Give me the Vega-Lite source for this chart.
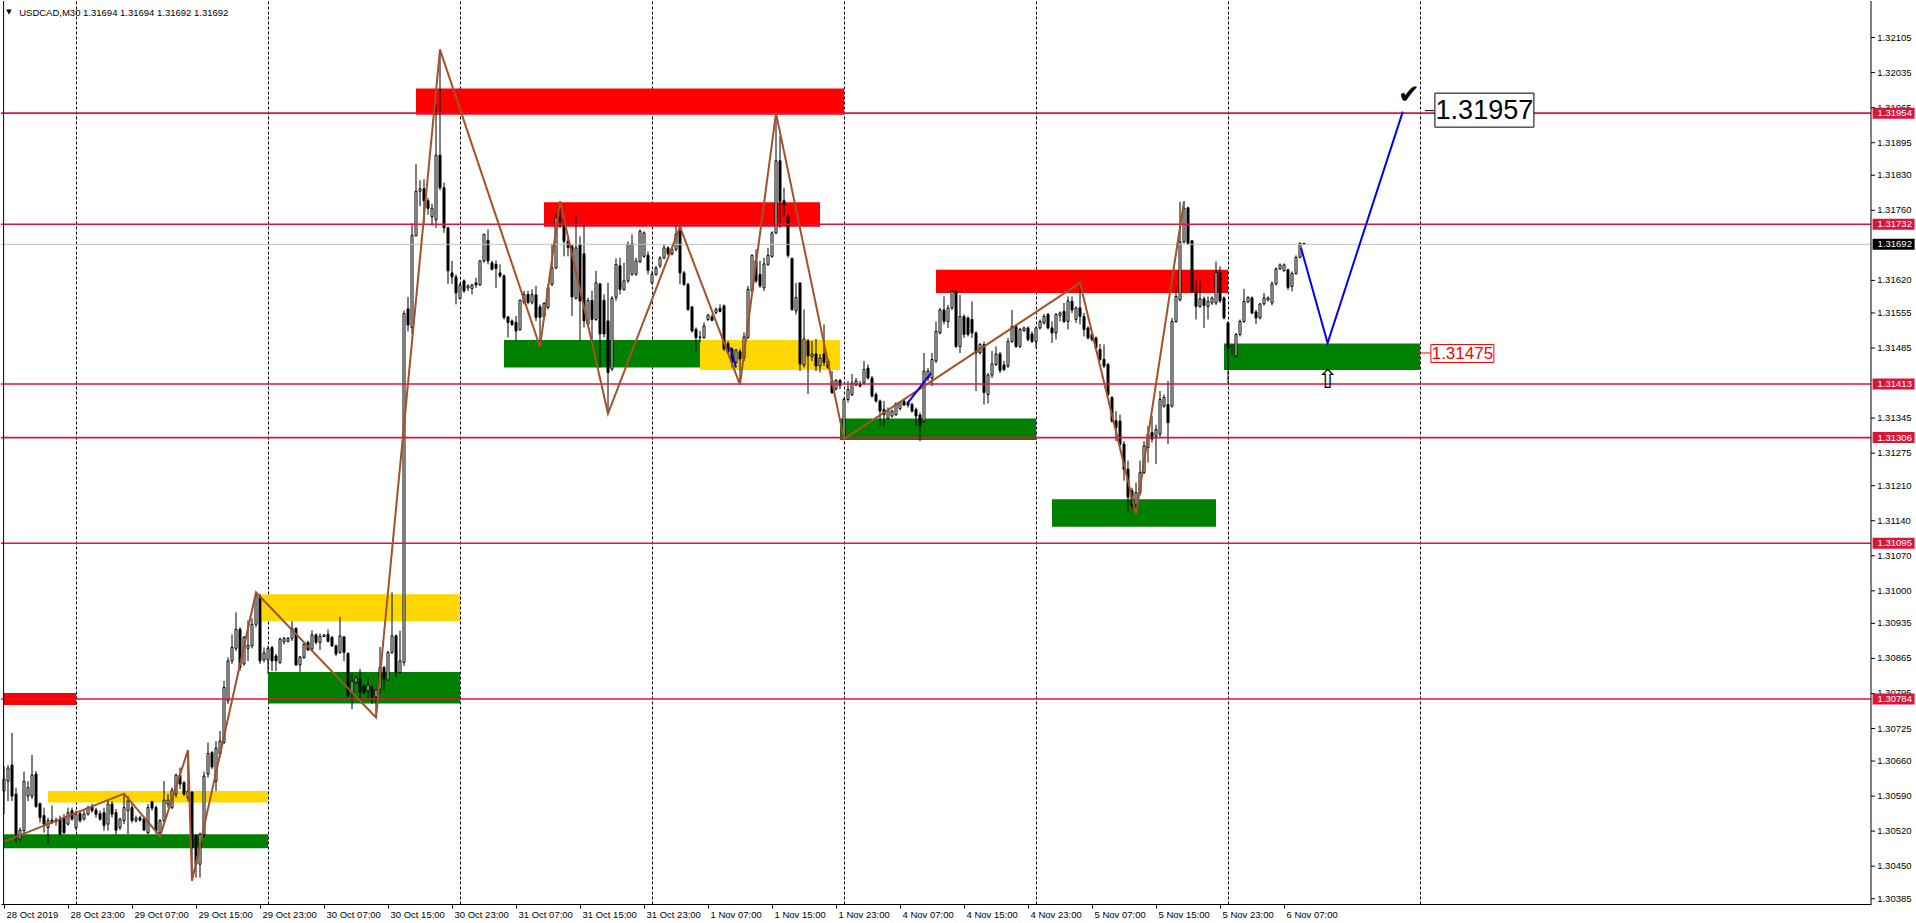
{
"$schema":"https://vega.github.io/schema/vega-lite/v6.json",
"width":1870,"height":903,"autosize":{"type":"pad"},"padding":0,"background":"#ffffff",
"config":{"view":{"stroke":null},"font":"Liberation Sans"},
"resolve":{"axis":{"x":"independent"}},
"datasets":{
"candles":[
{"i":0,"o":1.30600,"h":1.30650,"l":1.30554,"c":1.30624},
{"i":1,"o":1.30620,"h":1.30652,"l":1.30580,"c":1.30646},
{"i":2,"o":1.30652,"h":1.30716,"l":1.30580,"c":1.30590},
{"i":3,"o":1.30594,"h":1.30607,"l":1.30497,"c":1.30514},
{"i":4,"o":1.30504,"h":1.30527,"l":1.30501,"c":1.30522},
{"i":5,"o":1.30521,"h":1.30639,"l":1.30514,"c":1.30619},
{"i":6,"o":1.30590,"h":1.30620,"l":1.30580,"c":1.30607},
{"i":7,"o":1.30590,"h":1.30672,"l":1.30584,"c":1.30632},
{"i":8,"o":1.30634,"h":1.30640,"l":1.30567,"c":1.30569},
{"i":9,"o":1.30575,"h":1.30577,"l":1.30537,"c":1.30547},
{"i":10,"o":1.30551,"h":1.30567,"l":1.30517,"c":1.30534},
{"i":11,"o":1.30527,"h":1.30547,"l":1.30495,"c":1.30541},
{"i":12,"o":1.30542,"h":1.30571,"l":1.30534,"c":1.30537},
{"i":13,"o":1.30542,"h":1.30547,"l":1.30531,"c":1.30539},
{"i":14,"o":1.30544,"h":1.30551,"l":1.30511,"c":1.30514},
{"i":15,"o":1.30547,"h":1.30554,"l":1.30514,"c":1.30517},
{"i":16,"o":1.30534,"h":1.30567,"l":1.30531,"c":1.30557},
{"i":17,"o":1.30561,"h":1.30567,"l":1.30541,"c":1.30544},
{"i":18,"o":1.30527,"h":1.30561,"l":1.30521,"c":1.30554},
{"i":19,"o":1.30555,"h":1.30561,"l":1.30537,"c":1.30541},
{"i":20,"o":1.30544,"h":1.30561,"l":1.30541,"c":1.30554},
{"i":21,"o":1.30554,"h":1.30571,"l":1.30551,"c":1.30567},
{"i":22,"o":1.30569,"h":1.30575,"l":1.30557,"c":1.30561},
{"i":23,"o":1.30562,"h":1.30567,"l":1.30547,"c":1.30554},
{"i":24,"o":1.30555,"h":1.30561,"l":1.30541,"c":1.30544},
{"i":25,"o":1.30557,"h":1.30567,"l":1.30521,"c":1.30531},
{"i":26,"o":1.30534,"h":1.30584,"l":1.30521,"c":1.30574},
{"i":27,"o":1.30574,"h":1.30580,"l":1.30547,"c":1.30554},
{"i":28,"o":1.30557,"h":1.30564,"l":1.30513,"c":1.30522},
{"i":29,"o":1.30527,"h":1.30547,"l":1.30522,"c":1.30544},
{"i":30,"o":1.30541,"h":1.30594,"l":1.30534,"c":1.30567},
{"i":31,"o":1.30561,"h":1.30590,"l":1.30514,"c":1.30580},
{"i":32,"o":1.30567,"h":1.30574,"l":1.30537,"c":1.30541},
{"i":33,"o":1.30541,"h":1.30551,"l":1.30537,"c":1.30546},
{"i":34,"o":1.30547,"h":1.30551,"l":1.30539,"c":1.30542},
{"i":35,"o":1.30544,"h":1.30547,"l":1.30521,"c":1.30522},
{"i":36,"o":1.30517,"h":1.30574,"l":1.30514,"c":1.30567},
{"i":37,"o":1.30579,"h":1.30580,"l":1.30561,"c":1.30566},
{"i":38,"o":1.30567,"h":1.30571,"l":1.30515,"c":1.30521},
{"i":39,"o":1.30517,"h":1.30544,"l":1.30513,"c":1.30541},
{"i":40,"o":1.30541,"h":1.30620,"l":1.30537,"c":1.30582},
{"i":41,"o":1.30574,"h":1.30594,"l":1.30567,"c":1.30582},
{"i":42,"o":1.30567,"h":1.30607,"l":1.30564,"c":1.30602},
{"i":43,"o":1.30594,"h":1.30635,"l":1.30587,"c":1.30632},
{"i":44,"o":1.30632,"h":1.30647,"l":1.30604,"c":1.30614},
{"i":45,"o":1.30617,"h":1.30620,"l":1.30590,"c":1.30594},
{"i":46,"o":1.30587,"h":1.30682,"l":1.30580,"c":1.30600},
{"i":47,"o":1.30598,"h":1.30600,"l":1.30421,"c":1.30487},
{"i":48,"o":1.30511,"h":1.30514,"l":1.30427,"c":1.30454},
{"i":49,"o":1.30454,"h":1.30517,"l":1.30427,"c":1.30514},
{"i":50,"o":1.30513,"h":1.30639,"l":1.30507,"c":1.30630},
{"i":51,"o":1.30634,"h":1.30697,"l":1.30627,"c":1.30675},
{"i":52,"o":1.30677,"h":1.30680,"l":1.30644,"c":1.30648},
{"i":53,"o":1.30620,"h":1.30700,"l":1.30600,"c":1.30686},
{"i":54,"o":1.30674,"h":1.30720,"l":1.30667,"c":1.30700},
{"i":55,"o":1.30697,"h":1.30820,"l":1.30694,"c":1.30807},
{"i":56,"o":1.30780,"h":1.30867,"l":1.30774,"c":1.30860},
{"i":57,"o":1.30860,"h":1.30913,"l":1.30854,"c":1.30887},
{"i":58,"o":1.30885,"h":1.30957,"l":1.30880,"c":1.30923},
{"i":59,"o":1.30923,"h":1.30927,"l":1.30840,"c":1.30847},
{"i":60,"o":1.30854,"h":1.30910,"l":1.30850,"c":1.30907},
{"i":61,"o":1.30885,"h":1.30941,"l":1.30860,"c":1.30891},
{"i":62,"o":1.30890,"h":1.30945,"l":1.30885,"c":1.30933},
{"i":63,"o":1.30933,"h":1.30997,"l":1.30927,"c":1.30990},
{"i":64,"o":1.30990,"h":1.30994,"l":1.30854,"c":1.30860},
{"i":65,"o":1.30862,"h":1.30887,"l":1.30857,"c":1.30876},
{"i":66,"o":1.30862,"h":1.30890,"l":1.30834,"c":1.30885},
{"i":67,"o":1.30887,"h":1.30890,"l":1.30840,"c":1.30860},
{"i":68,"o":1.30870,"h":1.30874,"l":1.30840,"c":1.30860},
{"i":69,"o":1.30857,"h":1.30907,"l":1.30854,"c":1.30903},
{"i":70,"o":1.30898,"h":1.30908,"l":1.30893,"c":1.30905},
{"i":71,"o":1.30899,"h":1.30908,"l":1.30897,"c":1.30905},
{"i":72,"o":1.30905,"h":1.30939,"l":1.30900,"c":1.30925},
{"i":73,"o":1.30925,"h":1.30927,"l":1.30850,"c":1.30852},
{"i":74,"o":1.30852,"h":1.30870,"l":1.30838,"c":1.30868},
{"i":75,"o":1.30867,"h":1.30897,"l":1.30864,"c":1.30893},
{"i":76,"o":1.30897,"h":1.30900,"l":1.30880,"c":1.30882},
{"i":77,"o":1.30884,"h":1.30921,"l":1.30880,"c":1.30912},
{"i":78,"o":1.30912,"h":1.30915,"l":1.30893,"c":1.30897},
{"i":79,"o":1.30897,"h":1.30915,"l":1.30882,"c":1.30909},
{"i":80,"o":1.30909,"h":1.30913,"l":1.30907,"c":1.30912},
{"i":81,"o":1.30913,"h":1.30923,"l":1.30897,"c":1.30899},
{"i":82,"o":1.30907,"h":1.30910,"l":1.30888,"c":1.30890},
{"i":83,"o":1.30890,"h":1.30893,"l":1.30870,"c":1.30874},
{"i":84,"o":1.30877,"h":1.30948,"l":1.30874,"c":1.30910},
{"i":85,"o":1.30908,"h":1.30910,"l":1.30860,"c":1.30877},
{"i":86,"o":1.30875,"h":1.30877,"l":1.30787,"c":1.30790},
{"i":87,"o":1.30797,"h":1.30834,"l":1.30764,"c":1.30819},
{"i":88,"o":1.30817,"h":1.30830,"l":1.30814,"c":1.30827},
{"i":89,"o":1.30824,"h":1.30844,"l":1.30780,"c":1.30797},
{"i":90,"o":1.30810,"h":1.30813,"l":1.30794,"c":1.30797},
{"i":91,"o":1.30800,"h":1.30828,"l":1.30784,"c":1.30812},
{"i":92,"o":1.30808,"h":1.30812,"l":1.30774,"c":1.30788},
{"i":93,"o":1.30788,"h":1.30804,"l":1.30747,"c":1.30802},
{"i":94,"o":1.30804,"h":1.30888,"l":1.30794,"c":1.30847},
{"i":95,"o":1.30847,"h":1.30850,"l":1.30800,"c":1.30824},
{"i":96,"o":1.30822,"h":1.30880,"l":1.30820,"c":1.30877},
{"i":97,"o":1.30877,"h":1.30997,"l":1.30874,"c":1.30910},
{"i":98,"o":1.30910,"h":1.30913,"l":1.30827,"c":1.30837},
{"i":99,"o":1.30837,"h":1.30920,"l":1.30834,"c":1.30860},
{"i":100,"o":1.30857,"h":1.31560,"l":1.30850,"c":1.31554},
{"i":101,"o":1.31563,"h":1.31587,"l":1.31518,"c":1.31531},
{"i":102,"o":1.31526,"h":1.31734,"l":1.31513,"c":1.31710},
{"i":103,"o":1.31709,"h":1.31852,"l":1.31708,"c":1.31798},
{"i":104,"o":1.31798,"h":1.31820,"l":1.31768,"c":1.31803},
{"i":105,"o":1.31803,"h":1.31822,"l":1.31734,"c":1.31779},
{"i":106,"o":1.31779,"h":1.31785,"l":1.31751,"c":1.31764},
{"i":107,"o":1.31747,"h":1.31773,"l":1.31729,"c":1.31764},
{"i":108,"o":1.31741,"h":1.31971,"l":1.31725,"c":1.31870},
{"i":109,"o":1.31870,"h":1.32081,"l":1.31800,"c":1.31805},
{"i":110,"o":1.31805,"h":1.31815,"l":1.31715,"c":1.31725},
{"i":111,"o":1.31725,"h":1.31727,"l":1.31613,"c":1.31639},
{"i":112,"o":1.31635,"h":1.31659,"l":1.31613,"c":1.31627},
{"i":113,"o":1.31627,"h":1.31632,"l":1.31572,"c":1.31595},
{"i":114,"o":1.31584,"h":1.31615,"l":1.31582,"c":1.31611},
{"i":115,"o":1.31619,"h":1.31622,"l":1.31595,"c":1.31599},
{"i":116,"o":1.31605,"h":1.31612,"l":1.31599,"c":1.31609},
{"i":117,"o":1.31604,"h":1.31613,"l":1.31592,"c":1.31611},
{"i":118,"o":1.31615,"h":1.31625,"l":1.31605,"c":1.31611},
{"i":119,"o":1.31611,"h":1.31660,"l":1.31609,"c":1.31659},
{"i":120,"o":1.31659,"h":1.31713,"l":1.31655,"c":1.31712},
{"i":121,"o":1.31700,"h":1.31722,"l":1.31652,"c":1.31659},
{"i":122,"o":1.31655,"h":1.31659,"l":1.31640,"c":1.31642},
{"i":123,"o":1.31652,"h":1.31660,"l":1.31605,"c":1.31644},
{"i":124,"o":1.31635,"h":1.31652,"l":1.31625,"c":1.31629},
{"i":125,"o":1.31629,"h":1.31632,"l":1.31542,"c":1.31546},
{"i":126,"o":1.31547,"h":1.31549,"l":1.31506,"c":1.31536},
{"i":127,"o":1.31539,"h":1.31542,"l":1.31529,"c":1.31532},
{"i":128,"o":1.31536,"h":1.31549,"l":1.31499,"c":1.31519},
{"i":129,"o":1.31522,"h":1.31582,"l":1.31519,"c":1.31580},
{"i":130,"o":1.31576,"h":1.31599,"l":1.31572,"c":1.31592},
{"i":131,"o":1.31592,"h":1.31599,"l":1.31572,"c":1.31576},
{"i":132,"o":1.31576,"h":1.31602,"l":1.31572,"c":1.31592},
{"i":133,"o":1.31591,"h":1.31609,"l":1.31539,"c":1.31546},
{"i":134,"o":1.31567,"h":1.31572,"l":1.31487,"c":1.31546},
{"i":135,"o":1.31547,"h":1.31576,"l":1.31542,"c":1.31574},
{"i":136,"o":1.31566,"h":1.31612,"l":1.31562,"c":1.31605},
{"i":137,"o":1.31612,"h":1.31693,"l":1.31609,"c":1.31645},
{"i":138,"o":1.31645,"h":1.31753,"l":1.31642,"c":1.31745},
{"i":139,"o":1.31745,"h":1.31778,"l":1.31725,"c":1.31738},
{"i":140,"o":1.31728,"h":1.31742,"l":1.31668,"c":1.31698},
{"i":141,"o":1.31698,"h":1.31705,"l":1.31668,"c":1.31686},
{"i":142,"o":1.31688,"h":1.31692,"l":1.31549,"c":1.31587},
{"i":143,"o":1.31584,"h":1.31750,"l":1.31582,"c":1.31685},
{"i":144,"o":1.31692,"h":1.31708,"l":1.31499,"c":1.31579},
{"i":145,"o":1.31673,"h":1.31732,"l":1.31526,"c":1.31539},
{"i":146,"o":1.31532,"h":1.31586,"l":1.31529,"c":1.31580},
{"i":147,"o":1.31580,"h":1.31599,"l":1.31499,"c":1.31542},
{"i":148,"o":1.31542,"h":1.31639,"l":1.31539,"c":1.31615},
{"i":149,"o":1.31613,"h":1.31615,"l":1.31446,"c":1.31513},
{"i":150,"o":1.31580,"h":1.31592,"l":1.31506,"c":1.31513},
{"i":151,"o":1.31539,"h":1.31615,"l":1.31354,"c":1.31436},
{"i":152,"o":1.31443,"h":1.31589,"l":1.31439,"c":1.31584},
{"i":153,"o":1.31586,"h":1.31664,"l":1.31579,"c":1.31652},
{"i":154,"o":1.31649,"h":1.31665,"l":1.31592,"c":1.31602},
{"i":155,"o":1.31602,"h":1.31655,"l":1.31599,"c":1.31619},
{"i":156,"o":1.31619,"h":1.31698,"l":1.31615,"c":1.31692},
{"i":157,"o":1.31632,"h":1.31712,"l":1.31629,"c":1.31693},
{"i":158,"o":1.31632,"h":1.31665,"l":1.31629,"c":1.31659},
{"i":159,"o":1.31657,"h":1.31722,"l":1.31655,"c":1.31718},
{"i":160,"o":1.31668,"h":1.31718,"l":1.31665,"c":1.31715},
{"i":161,"o":1.31670,"h":1.31678,"l":1.31632,"c":1.31640},
{"i":162,"o":1.31615,"h":1.31639,"l":1.31612,"c":1.31632},
{"i":163,"o":1.31632,"h":1.31649,"l":1.31629,"c":1.31645},
{"i":164,"o":1.31649,"h":1.31668,"l":1.31645,"c":1.31665},
{"i":165,"o":1.31665,"h":1.31692,"l":1.31662,"c":1.31685},
{"i":166,"o":1.31685,"h":1.31688,"l":1.31670,"c":1.31673},
{"i":167,"o":1.31673,"h":1.31685,"l":1.31670,"c":1.31682},
{"i":168,"o":1.31682,"h":1.31728,"l":1.31678,"c":1.31712},
{"i":169,"o":1.31726,"h":1.31727,"l":1.31612,"c":1.31635},
{"i":170,"o":1.31635,"h":1.31639,"l":1.31609,"c":1.31612},
{"i":171,"o":1.31612,"h":1.31615,"l":1.31559,"c":1.31562},
{"i":172,"o":1.31567,"h":1.31569,"l":1.31516,"c":1.31519},
{"i":173,"o":1.31522,"h":1.31526,"l":1.31479,"c":1.31506},
{"i":174,"o":1.31506,"h":1.31519,"l":1.31496,"c":1.31507},
{"i":175,"o":1.31506,"h":1.31536,"l":1.31503,"c":1.31529},
{"i":176,"o":1.31542,"h":1.31552,"l":1.31539,"c":1.31551},
{"i":177,"o":1.31547,"h":1.31552,"l":1.31539,"c":1.31540},
{"i":178,"o":1.31556,"h":1.31566,"l":1.31552,"c":1.31562},
{"i":179,"o":1.31564,"h":1.31572,"l":1.31556,"c":1.31558},
{"i":180,"o":1.31569,"h":1.31572,"l":1.31479,"c":1.31483},
{"i":181,"o":1.31494,"h":1.31499,"l":1.31473,"c":1.31476},
{"i":182,"o":1.31483,"h":1.31486,"l":1.31446,"c":1.31456},
{"i":183,"o":1.31456,"h":1.31483,"l":1.31453,"c":1.31481},
{"i":184,"o":1.31478,"h":1.31483,"l":1.31412,"c":1.31463},
{"i":185,"o":1.31465,"h":1.31516,"l":1.31459,"c":1.31507},
{"i":186,"o":1.31506,"h":1.31609,"l":1.31503,"c":1.31602},
{"i":187,"o":1.31599,"h":1.31672,"l":1.31595,"c":1.31670},
{"i":188,"o":1.31659,"h":1.31682,"l":1.31615,"c":1.31619},
{"i":189,"o":1.31632,"h":1.31659,"l":1.31605,"c":1.31609},
{"i":190,"o":1.31605,"h":1.31665,"l":1.31599,"c":1.31653},
{"i":191,"o":1.31652,"h":1.31685,"l":1.31649,"c":1.31670},
{"i":192,"o":1.31668,"h":1.31718,"l":1.31665,"c":1.31715},
{"i":193,"o":1.31715,"h":1.31954,"l":1.31712,"c":1.31859},
{"i":194,"o":1.31859,"h":1.31908,"l":1.31725,"c":1.31778},
{"i":195,"o":1.31779,"h":1.31805,"l":1.31748,"c":1.31771},
{"i":196,"o":1.31748,"h":1.31752,"l":1.31665,"c":1.31670},
{"i":197,"o":1.31664,"h":1.31665,"l":1.31559,"c":1.31562},
{"i":198,"o":1.31559,"h":1.31615,"l":1.31552,"c":1.31586},
{"i":199,"o":1.31615,"h":1.31615,"l":1.31439,"c":1.31453},
{"i":200,"o":1.31451,"h":1.31562,"l":1.31446,"c":1.31503},
{"i":201,"o":1.31499,"h":1.31503,"l":1.31393,"c":1.31469},
{"i":202,"o":1.31468,"h":1.31499,"l":1.31459,"c":1.31473},
{"i":203,"o":1.31473,"h":1.31503,"l":1.31439,"c":1.31449},
{"i":204,"o":1.31449,"h":1.31473,"l":1.31436,"c":1.31465},
{"i":205,"o":1.31473,"h":1.31532,"l":1.31449,"c":1.31456},
{"i":206,"o":1.31459,"h":1.31463,"l":1.31443,"c":1.31446},
{"i":207,"o":1.31420,"h":1.31439,"l":1.31393,"c":1.31396},
{"i":208,"o":1.31403,"h":1.31423,"l":1.31400,"c":1.31420},
{"i":209,"o":1.31420,"h":1.31423,"l":1.31403,"c":1.31410},
{"i":210,"o":1.31306,"h":1.31386,"l":1.31303,"c":1.31382},
{"i":211,"o":1.31382,"h":1.31419,"l":1.31376,"c":1.31402},
{"i":212,"o":1.31392,"h":1.31433,"l":1.31389,"c":1.31415},
{"i":213,"o":1.31411,"h":1.31425,"l":1.31409,"c":1.31419},
{"i":214,"o":1.31413,"h":1.31419,"l":1.31406,"c":1.31409},
{"i":215,"o":1.31415,"h":1.31459,"l":1.31412,"c":1.31442},
{"i":216,"o":1.31445,"h":1.31452,"l":1.31422,"c":1.31425},
{"i":217,"o":1.31425,"h":1.31429,"l":1.31386,"c":1.31389},
{"i":218,"o":1.31392,"h":1.31396,"l":1.31376,"c":1.31379},
{"i":219,"o":1.31379,"h":1.31382,"l":1.31329,"c":1.31359},
{"i":220,"o":1.31362,"h":1.31379,"l":1.31329,"c":1.31352},
{"i":221,"o":1.31344,"h":1.31366,"l":1.31342,"c":1.31360},
{"i":222,"o":1.31349,"h":1.31362,"l":1.31346,"c":1.31359},
{"i":223,"o":1.31352,"h":1.31376,"l":1.31349,"c":1.31374},
{"i":224,"o":1.31364,"h":1.31379,"l":1.31360,"c":1.31376},
{"i":225,"o":1.31379,"h":1.31382,"l":1.31369,"c":1.31371},
{"i":226,"o":1.31376,"h":1.31379,"l":1.31366,"c":1.31371},
{"i":227,"o":1.31372,"h":1.31376,"l":1.31356,"c":1.31359},
{"i":228,"o":1.31362,"h":1.31366,"l":1.31329,"c":1.31349},
{"i":229,"o":1.31351,"h":1.31356,"l":1.31299,"c":1.31329},
{"i":230,"o":1.31339,"h":1.31475,"l":1.31336,"c":1.31439},
{"i":231,"o":1.31425,"h":1.31445,"l":1.31419,"c":1.31439},
{"i":232,"o":1.31425,"h":1.31475,"l":1.31409,"c":1.31462},
{"i":233,"o":1.31459,"h":1.31538,"l":1.31455,"c":1.31518},
{"i":234,"o":1.31515,"h":1.31565,"l":1.31512,"c":1.31561},
{"i":235,"o":1.31561,"h":1.31588,"l":1.31532,"c":1.31538},
{"i":236,"o":1.31538,"h":1.31571,"l":1.31525,"c":1.31565},
{"i":237,"o":1.31565,"h":1.31601,"l":1.31561,"c":1.31598},
{"i":238,"o":1.31598,"h":1.31601,"l":1.31485,"c":1.31488},
{"i":239,"o":1.31488,"h":1.31591,"l":1.31475,"c":1.31548},
{"i":240,"o":1.31548,"h":1.31552,"l":1.31505,"c":1.31512},
{"i":241,"o":1.31545,"h":1.31548,"l":1.31508,"c":1.31512},
{"i":242,"o":1.31542,"h":1.31578,"l":1.31505,"c":1.31515},
{"i":243,"o":1.31515,"h":1.31518,"l":1.31399,"c":1.31475},
{"i":244,"o":1.31475,"h":1.31495,"l":1.31472,"c":1.31492},
{"i":245,"o":1.31492,"h":1.31498,"l":1.31372,"c":1.31396},
{"i":246,"o":1.31392,"h":1.31435,"l":1.31374,"c":1.31431},
{"i":247,"o":1.31431,"h":1.31479,"l":1.31425,"c":1.31453},
{"i":248,"o":1.31452,"h":1.31488,"l":1.31449,"c":1.31473},
{"i":249,"o":1.31473,"h":1.31477,"l":1.31435,"c":1.31440},
{"i":250,"o":1.31451,"h":1.31459,"l":1.31439,"c":1.31442},
{"i":251,"o":1.31449,"h":1.31505,"l":1.31445,"c":1.31498},
{"i":252,"o":1.31498,"h":1.31561,"l":1.31495,"c":1.31528},
{"i":253,"o":1.31528,"h":1.31532,"l":1.31485,"c":1.31488},
{"i":254,"o":1.31488,"h":1.31525,"l":1.31485,"c":1.31522},
{"i":255,"o":1.31520,"h":1.31528,"l":1.31517,"c":1.31525},
{"i":256,"o":1.31525,"h":1.31528,"l":1.31498,"c":1.31502},
{"i":257,"o":1.31513,"h":1.31518,"l":1.31495,"c":1.31498},
{"i":258,"o":1.31498,"h":1.31528,"l":1.31485,"c":1.31525},
{"i":259,"o":1.31525,"h":1.31542,"l":1.31522,"c":1.31538},
{"i":260,"o":1.31535,"h":1.31553,"l":1.31532,"c":1.31548},
{"i":261,"o":1.31552,"h":1.31555,"l":1.31522,"c":1.31525},
{"i":262,"o":1.31525,"h":1.31538,"l":1.31495,"c":1.31515},
{"i":263,"o":1.31515,"h":1.31555,"l":1.31502,"c":1.31552},
{"i":264,"o":1.31550,"h":1.31558,"l":1.31538,"c":1.31555},
{"i":265,"o":1.31558,"h":1.31575,"l":1.31535,"c":1.31538},
{"i":266,"o":1.31538,"h":1.31588,"l":1.31522,"c":1.31579},
{"i":267,"o":1.31578,"h":1.31588,"l":1.31555,"c":1.31561},
{"i":268,"o":1.31542,"h":1.31568,"l":1.31535,"c":1.31565},
{"i":269,"o":1.31565,"h":1.31615,"l":1.31532,"c":1.31548},
{"i":270,"o":1.31548,"h":1.31555,"l":1.31508,"c":1.31522},
{"i":271,"o":1.31525,"h":1.31528,"l":1.31502,"c":1.31505},
{"i":272,"o":1.31512,"h":1.31515,"l":1.31498,"c":1.31502},
{"i":273,"o":1.31505,"h":1.31508,"l":1.31482,"c":1.31485},
{"i":274,"o":1.31482,"h":1.31493,"l":1.31459,"c":1.31462},
{"i":275,"o":1.31462,"h":1.31492,"l":1.31445,"c":1.31449},
{"i":276,"o":1.31452,"h":1.31455,"l":1.31389,"c":1.31392},
{"i":277,"o":1.31386,"h":1.31389,"l":1.31336,"c":1.31339},
{"i":278,"o":1.31340,"h":1.31359,"l":1.31299,"c":1.31326},
{"i":279,"o":1.31339,"h":1.31352,"l":1.31289,"c":1.31293},
{"i":280,"o":1.31293,"h":1.31299,"l":1.31220,"c":1.31243},
{"i":281,"o":1.31243,"h":1.31260,"l":1.31157,"c":1.31187},
{"i":282,"o":1.31200,"h":1.31206,"l":1.31163,"c":1.31170},
{"i":283,"o":1.31173,"h":1.31216,"l":1.31153,"c":1.31196},
{"i":284,"o":1.31196,"h":1.31260,"l":1.31190,"c":1.31236},
{"i":285,"o":1.31236,"h":1.31299,"l":1.31233,"c":1.31289},
{"i":286,"o":1.31286,"h":1.31329,"l":1.31256,"c":1.31313},
{"i":287,"o":1.31316,"h":1.31349,"l":1.31296,"c":1.31303},
{"i":288,"o":1.31309,"h":1.31332,"l":1.31253,"c":1.31322},
{"i":289,"o":1.31313,"h":1.31399,"l":1.31306,"c":1.31382},
{"i":290,"o":1.31369,"h":1.31392,"l":1.31366,"c":1.31386},
{"i":291,"o":1.31372,"h":1.31419,"l":1.31293,"c":1.31336},
{"i":292,"o":1.31369,"h":1.31545,"l":1.31366,"c":1.31538},
{"i":293,"o":1.31538,"h":1.31608,"l":1.31535,"c":1.31588},
{"i":294,"o":1.31581,"h":1.31777,"l":1.31578,"c":1.31697},
{"i":295,"o":1.31697,"h":1.31778,"l":1.31694,"c":1.31764},
{"i":296,"o":1.31765,"h":1.31767,"l":1.31691,"c":1.31694},
{"i":297,"o":1.31699,"h":1.31701,"l":1.31595,"c":1.31598},
{"i":298,"o":1.31598,"h":1.31621,"l":1.31542,"c":1.31568},
{"i":299,"o":1.31568,"h":1.31619,"l":1.31565,"c":1.31583},
{"i":300,"o":1.31583,"h":1.31588,"l":1.31525,"c":1.31570},
{"i":301,"o":1.31568,"h":1.31588,"l":1.31542,"c":1.31578},
{"i":302,"o":1.31575,"h":1.31588,"l":1.31571,"c":1.31585},
{"i":303,"o":1.31575,"h":1.31658,"l":1.31571,"c":1.31636},
{"i":304,"o":1.31636,"h":1.31648,"l":1.31575,"c":1.31579},
{"i":305,"o":1.31585,"h":1.31588,"l":1.31542,"c":1.31545},
{"i":306,"o":1.31535,"h":1.31538,"l":1.31415,"c":1.31484},
{"i":307,"o":1.31482,"h":1.31492,"l":1.31472,"c":1.31486},
{"i":308,"o":1.31469,"h":1.31515,"l":1.31466,"c":1.31512},
{"i":309,"o":1.31512,"h":1.31542,"l":1.31508,"c":1.31538},
{"i":310,"o":1.31538,"h":1.31603,"l":1.31535,"c":1.31578},
{"i":311,"o":1.31577,"h":1.31588,"l":1.31575,"c":1.31586},
{"i":312,"o":1.31585,"h":1.31588,"l":1.31552,"c":1.31555},
{"i":313,"o":1.31557,"h":1.31561,"l":1.31533,"c":1.31545},
{"i":314,"o":1.31545,"h":1.31575,"l":1.31542,"c":1.31573},
{"i":315,"o":1.31573,"h":1.31595,"l":1.31570,"c":1.31585},
{"i":316,"o":1.31581,"h":1.31588,"l":1.31578,"c":1.31585},
{"i":317,"o":1.31575,"h":1.31618,"l":1.31570,"c":1.31613},
{"i":318,"o":1.31613,"h":1.31646,"l":1.31610,"c":1.31643},
{"i":319,"o":1.31643,"h":1.31654,"l":1.31641,"c":1.31651},
{"i":320,"o":1.31639,"h":1.31654,"l":1.31638,"c":1.31651},
{"i":321,"o":1.31641,"h":1.31643,"l":1.31601,"c":1.31606},
{"i":322,"o":1.31608,"h":1.31638,"l":1.31598,"c":1.31634},
{"i":323,"o":1.31634,"h":1.31670,"l":1.31631,"c":1.31666},
{"i":324,"o":1.31666,"h":1.31696,"l":1.31664,"c":1.31694},
{"i":325,"o":1.31694,"h":1.31694,"l":1.31692,"c":1.31692}
],
"zones":[
{"k":"supply","i1":-0.1,"i2":18,"p1":1.30772,"p2":1.30796},
{"k":"middle","i1":11,"i2":66,"p1":1.30577,"p2":1.30600},
{"k":"demand","i1":-0.1,"i2":66,"p1":1.30486,"p2":1.30514},
{"k":"middle","i1":64.5,"i2":114,"p1":1.30939,"p2":1.30993},
{"k":"demand","i1":66,"i2":114,"p1":1.30775,"p2":1.30838},
{"k":"supply","i1":103,"i2":210,"p1":1.31951,"p2":1.32003},
{"k":"supply","i1":135,"i2":204,"p1":1.31727,"p2":1.31776},
{"k":"demand","i1":125,"i2":174,"p1":1.31446,"p2":1.31501},
{"k":"middle","i1":174,"i2":209,"p1":1.31441,"p2":1.31501},
{"k":"demand","i1":209,"i2":258,"p1":1.31301,"p2":1.31344},
{"k":"supply","i1":233,"i2":306,"p1":1.31595,"p2":1.31641},
{"k":"demand","i1":262,"i2":303,"p1":1.31128,"p2":1.31183},
{"k":"demand","i1":305,"i2":354,"p1":1.31441,"p2":1.31494}
],
"levels":[
{"p":1.31954,"kind":"level"},{"p":1.31732,"kind":"level"},{"p":1.31413,"kind":"level"},
{"p":1.31306,"kind":"level"},{"p":1.31095,"kind":"level"},{"p":1.30784,"kind":"level"},
{"p":1.31692,"kind":"bid"}
],
"yticks":[
{"p":1.32105},{"p":1.32035},{"p":1.31965},{"p":1.31895},{"p":1.31830},{"p":1.31760},{"p":1.31620},{"p":1.31555},
{"p":1.31485},{"p":1.31345},{"p":1.31275},{"p":1.31210},{"p":1.31140},{"p":1.31070},{"p":1.31000},{"p":1.30935},
{"p":1.30865},{"p":1.30795},{"p":1.30725},{"p":1.30660},{"p":1.30590},{"p":1.30520},{"p":1.30450},{"p":1.30385}
],
"zigzag":[
{"i":0,"p":1.30499},{"i":30,"p":1.30595},{"i":39,"p":1.30510},{"i":46,"p":1.30682},{"i":47,"p":1.30421},
{"i":63,"p":1.30997},{"i":93,"p":1.30747},{"i":109,"p":1.32081},{"i":134,"p":1.31487},{"i":139,"p":1.31778},
{"i":151,"p":1.31354},{"i":169,"p":1.31727},{"i":184,"p":1.31412},{"i":193,"p":1.31954},{"i":210,"p":1.31303},
{"i":269,"p":1.31615},{"i":283,"p":1.31153},{"i":295,"p":1.31778}
],
"proj":[
{"seg":"a","i":181.6,"p":1.31486},{"seg":"a","i":183,"p":1.31446},
{"seg":"b","i":226,"p":1.31376},{"seg":"b","i":231.75,"p":1.31435},
{"seg":"c","i":324.25,"p":1.31685},{"seg":"c","i":330.9,"p":1.31495},{"seg":"c","i":349.7,"p":1.31957}
]
},
"layer":[
{"data":{"name":"zones"},"mark":{"type":"rect"},
 "encoding":{
  "x":{"field":"i1","type":"quantitative","scale":{"domain":[-0.75,466.75],"nice":false,"zero":false,"padding":0},
   "axis":{"orient":"top","values":[18,66,114,162,210,258,306,354],"grid":true,"gridDash":[3,2],"gridColor":"#000000","gridOpacity":1,"gridWidth":1,"domain":false,"ticks":false,"labels":false,"title":null}},
  "x2":{"field":"i2"},
  "y":{"field":"p1","type":"quantitative","scale":{"domain":[1.303745,1.32178],"nice":false,"zero":false,"padding":0},"axis":null},
  "y2":{"field":"p2"},
  "color":{"condition":[{"test":"datum.k=='supply'","value":"#ff0000"},{"test":"datum.k=='demand'","value":"#008000"}],"value":"#ffd700"}
 }},
{"data":{"name":"candles"},"mark":{"type":"rule","color":"#000000","strokeWidth":1},
 "encoding":{
  "x":{"field":"i","type":"quantitative",
   "axis":{"orient":"bottom","values":[0,16,32,48,64,80,96,112,128,144,160,176,192,208,224,240,256,272,288,304,320],
    "labelExpr":"['28 Oct 2019','28 Oct 23:00','29 Oct 07:00','29 Oct 15:00','29 Oct 23:00','30 Oct 07:00','30 Oct 15:00','30 Oct 23:00','31 Oct 07:00','31 Oct 15:00','31 Oct 23:00','1 Nov 07:00','1 Nov 15:00','1 Nov 23:00','4 Nov 07:00','4 Nov 15:00','4 Nov 23:00','5 Nov 07:00','5 Nov 15:00','5 Nov 23:00','6 Nov 07:00'][round(datum.value/16)]",
    "labelAlign":"left","labelOffset":2,"labelPadding":1,"labelFontSize":9.5,"labelFont":"Liberation Sans","labelColor":"#000000",
    "tickSize":4,"tickColor":"#000000","domainColor":"#000000","grid":false,"title":null,"labelFlush":false,"labelOverlap":false}},
  "y":{"field":"l","type":"quantitative","axis":null},
  "y2":{"field":"h"}
 }},
{"data":{"name":"candles"},"mark":{"type":"bar","size":2,"stroke":"#000000","strokeWidth":1},
 "encoding":{
  "x":{"field":"i","type":"quantitative","axis":null},
  "y":{"field":"o","type":"quantitative","axis":null},
  "y2":{"field":"c"},
  "fill":{"condition":{"test":"datum.c >= datum.o","value":"#ffffff"},"value":"#000000"}
 }},
{"data":{"name":"levels"},"mark":{"type":"rule"},
 "encoding":{
  "y":{"field":"p","type":"quantitative","axis":null},
  "color":{"condition":{"test":"datum.kind=='bid'","value":"#c0c0c0"},"value":"#dc143c"},
  "strokeWidth":{"condition":{"test":"datum.kind=='bid'","value":1},"value":1.6}
 }},
{"data":{"values":[{"i":-0.1},{"i":466.75}]},"mark":{"type":"rule","color":"#000000","strokeWidth":1},
 "encoding":{"x":{"field":"i","type":"quantitative","axis":null}}},
{"data":{"name":"yticks"},"mark":{"type":"rule","color":"#000000","strokeWidth":1},
 "encoding":{"x":{"datum":466.75,"type":"quantitative","axis":null},"x2":{"datum":467.75},"y":{"field":"p","type":"quantitative","axis":null}}},
{"data":{"name":"yticks"},"mark":{"type":"text","align":"left","baseline":"middle","fontSize":9.5,"font":"Liberation Sans","color":"#000000"},
 "encoding":{"x":{"datum":468.3,"type":"quantitative","axis":null},"y":{"field":"p","type":"quantitative","axis":null},"text":{"field":"p","type":"quantitative","format":".5f"}}},
{"data":{"name":"zigzag"},"mark":{"type":"line","color":"#a0522d","strokeWidth":2},
 "encoding":{"x":{"field":"i","type":"quantitative","axis":null},"y":{"field":"p","type":"quantitative","axis":null}}},
{"data":{"name":"proj"},"mark":{"type":"line","color":"#0000ff","strokeWidth":2},
 "encoding":{"x":{"field":"i","type":"quantitative","axis":null},"y":{"field":"p","type":"quantitative","axis":null},"detail":{"field":"seg"}}},
{"data":{"name":"levels"},"mark":{"type":"tick","orient":"horizontal","size":42,"thickness":11,"opacity":1},
 "encoding":{
  "x":{"datum":472.4,"type":"quantitative","axis":null},
  "y":{"field":"p","type":"quantitative","axis":null},
  "fill":{"condition":{"test":"datum.kind=='bid'","value":"#000000"},"value":"#dc143c"}
 }},
{"data":{"name":"levels"},"mark":{"type":"text","align":"left","baseline":"middle","fontSize":9.5,"font":"Liberation Sans","color":"#ffffff"},
 "encoding":{
  "x":{"datum":468.4,"type":"quantitative","axis":null},
  "y":{"field":"p","type":"quantitative","axis":null},
  "text":{"field":"p","type":"quantitative","format":".5f"}
 }},
{"data":{"values":[{"i1":355.25,"i2":357.5,"p":1.31959}]},"mark":{"type":"rule","color":"#000000","strokeWidth":1},
 "encoding":{"x":{"field":"i1","type":"quantitative","axis":null},"x2":{"field":"i2"},"y":{"field":"p","type":"quantitative","axis":null}}},
{"data":{"values":[{"i1":354,"i2":356.75,"p":1.31475}]},"mark":{"type":"rule","color":"#ff0000","strokeWidth":1},
 "encoding":{"x":{"field":"i1","type":"quantitative","axis":null},"x2":{"field":"i2"},"y":{"field":"p","type":"quantitative","axis":null}}},
{"data":{"values":[{"i":370.1,"p":1.3196,"t":"1.31957"}]},"mark":{"type":"tick","orient":"horizontal","size":99,"thickness":34,"opacity":1,"fill":"#ffffff","stroke":"#000000","strokeWidth":1},
 "encoding":{"x":{"field":"i","type":"quantitative","axis":null},"y":{"field":"p","type":"quantitative","axis":null}}},
{"data":{"values":[{"i":370.1,"p":1.3196,"t":"1.31957"}]},"mark":{"type":"text","align":"center","baseline":"middle","fontSize":27,"font":"Liberation Sans","color":"#000000","dy":1},
 "encoding":{"x":{"field":"i","type":"quantitative","axis":null},"y":{"field":"p","type":"quantitative","axis":null},"text":{"field":"t"}}},
{"data":{"values":[{"i":364.6,"p":1.31474,"t":"1.31475"}]},"mark":{"type":"tick","orient":"horizontal","size":63,"thickness":18,"opacity":1,"fill":"#ffffff","stroke":"#ff0000","strokeWidth":1},
 "encoding":{"x":{"field":"i","type":"quantitative","axis":null},"y":{"field":"p","type":"quantitative","axis":null}}},
{"data":{"values":[{"i":364.6,"p":1.31474,"t":"1.31475"}]},"mark":{"type":"text","align":"center","baseline":"middle","fontSize":17,"font":"Liberation Sans","color":"#ff0000","dy":1},
 "encoding":{"x":{"field":"i","type":"quantitative","axis":null},"y":{"field":"p","type":"quantitative","axis":null},"text":{"field":"t"}}},
{"data":{"values":[{"i":351.2,"p":1.3199,"t":"✔"}]},"mark":{"type":"text","align":"center","baseline":"middle","fontSize":26,"font":"DejaVu Sans","color":"#000000"},
 "encoding":{"x":{"field":"i","type":"quantitative","axis":null},"y":{"field":"p","type":"quantitative","axis":null},"text":{"field":"t"}}},
{"data":{"values":[{"i":330.9,"p":1.31422,"t":"⇧"}]},"mark":{"type":"text","align":"center","baseline":"middle","fontSize":26,"font":"DejaVu Sans","color":"#000000"},
 "encoding":{"x":{"field":"i","type":"quantitative","axis":null},"y":{"field":"p","type":"quantitative","axis":null},"text":{"field":"t"}}},
{"data":{"values":[{"i":1.25,"p":1.32157,"t":"▼"}]},"mark":{"type":"text","align":"center","baseline":"middle","fontSize":7,"font":"DejaVu Sans","color":"#000000"},
 "encoding":{"x":{"field":"i","type":"quantitative","axis":null},"y":{"field":"p","type":"quantitative","axis":null},"text":{"field":"t"}}},
{"data":{"values":[{"i":3.8,"p":1.32155,"t":"USDCAD,M30  1.31694 1.31694 1.31692 1.31692"}]},"mark":{"type":"text","align":"left","baseline":"middle","fontSize":9.5,"font":"Liberation Sans","color":"#000000"},
 "encoding":{"x":{"field":"i","type":"quantitative","axis":null},"y":{"field":"p","type":"quantitative","axis":null},"text":{"field":"t"}}}
]
}
